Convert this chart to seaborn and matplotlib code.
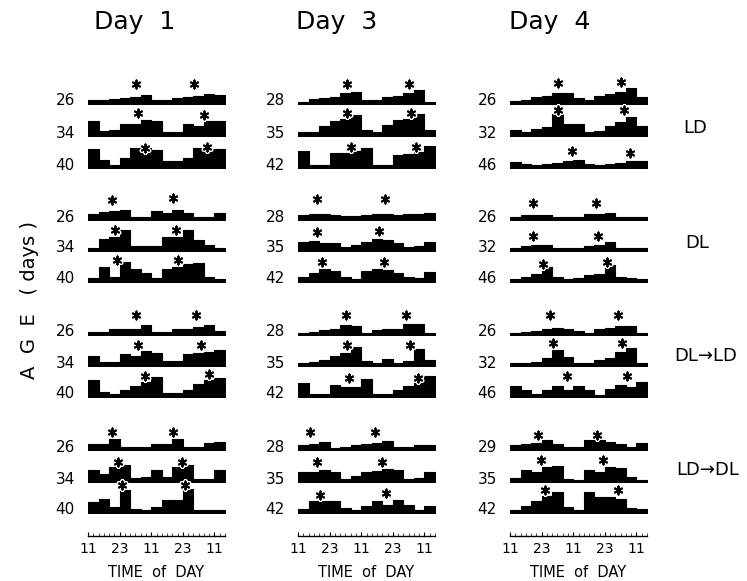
import numpy as np
import pandas as pd
import matplotlib
matplotlib.use("Agg")
import matplotlib.pyplot as plt
import seaborn as sns

sns.set_theme(style="white")
plt.rcParams['font.family'] = ['DejaVu Sans']

# ---------------- data ----------------
bin_edges = list(range(0, 53, 4))          # hours after 11:00, 4-h bins
day_titles = ["Day  1", "Day  3", "Day  4"]
group_labels = ["LD", "DL", "DL\u2192LD", "LD\u2192DL"]
tick_hours = [0, 12, 24, 36, 48]
tick_labels = ["11", "23", "11", "23", "11"]

ages_d1 = [[26, 34, 40], [26, 34, 40], [26, 34, 40], [26, 34, 40]]
ages_d3 = [[28, 35, 42], [28, 35, 42], [28, 35, 42], [28, 35, 42]]
ages_d4 = [[26, 32, 46], [26, 32, 46], [26, 32, 46], [29, 35, 42]]

# activity per 4-h bin (arbitrary units)
d1_LD = [[3.5, 4, 5, 6, 7, 9, 3.5, 3.5, 6, 7, 7.5, 10, 9],
         [15, 5, 6, 12, 12.5, 16.5, 15, 4.5, 4.5, 12.5, 10, 15, 15],
         [19.5, 8, 3, 10, 20.5, 20, 18, 7.5, 7.5, 10.5, 20.5, 19.5, 19.5]]
d1_DL = [[6.5, 8, 9, 10, 3, 3.5, 9, 7, 10.5, 7, 3.5, 3, 7.5],
         [3, 12.5, 14, 21.5, 5, 5, 5, 14, 14, 21.5, 11, 6, 3],
         [4, 14.5, 5, 20, 12.5, 8.5, 4, 12.5, 14.5, 18, 19, 5, 3]]
d1_DLLD = [[3, 3.5, 6.5, 6, 6.5, 10, 3, 3, 6.5, 6.5, 8, 10.5, 4.5],
           [9.5, 3.5, 3.5, 11.5, 9.5, 15, 13, 4.5, 4.5, 12, 12.5, 14, 16],
           [17, 5, 3, 7.5, 11, 15, 20, 4.5, 4, 7, 13, 17, 19.5]]
d1_LDDL = [[6, 6.5, 11.5, 3, 3, 3.5, 6, 6, 11.5, 3, 3, 7.5, 8],
           [12.5, 8.5, 15, 17, 4, 5, 12.5, 5, 15, 17, 3, 3, 12.5],
           [11, 14.5, 6, 23, 4, 3, 6.5, 13.5, 13.5, 24.5, 3, 3.5, 3.5]]

d3_LD = [[2, 4.5, 5.5, 6.5, 11, 12, 3.5, 4, 6.5, 8, 11, 14, 2],
         [4, 4, 10, 15, 17, 21, 6, 4, 11, 16, 17, 22, 6],
         [17, 3, 3, 15, 15, 17, 20.5, 3, 3, 13, 14.5, 16, 22]]
d3_DL = [[5, 6.5, 6, 5, 4, 4.5, 5.5, 6.5, 6.5, 5.5, 6, 6.5, 7.5],
         [9.5, 10.5, 8.5, 8.5, 4.5, 6, 9.5, 12.5, 11, 8.5, 4.5, 5.5, 9.5],
         [4.5, 8.5, 12.5, 10.5, 5, 3, 10.5, 12.5, 11.5, 8.5, 5, 3.5, 9.5]]
d3_DLLD = [[2.5, 3, 5.5, 6.5, 10.5, 9.5, 2.5, 5, 6, 6.5, 11, 11, 2.5],
           [3, 3.5, 6, 10, 13, 18.5, 4.5, 3, 6.5, 3, 4.5, 16.5, 6],
           [14.5, 3, 3, 12, 10.5, 10.5, 18.5, 3, 3, 7, 11, 15.5, 21]]
d3_LDDL = [[5, 6.5, 8.5, 2.5, 3, 5, 6, 7.5, 9.5, 3, 3.5, 5, 5],
           [10, 10, 12, 10, 3, 6, 10, 11, 13.5, 12, 3.5, 4.5, 10],
           [4.5, 12, 12, 12, 5.5, 3, 7, 12, 8, 13.5, 8, 3.5, 7]]

d4_LD = [[3, 4, 6.5, 8, 10.5, 10.5, 5.5, 4, 8, 10, 11.5, 15.5, 6.5],
         [6.5, 4, 7, 9.5, 22, 12, 12, 4, 5.5, 10.5, 14, 19, 10.5],
         [6, 4, 3, 4, 5, 7, 8, 4, 3, 4, 5, 7, 7.5]]
d4_DL = [[3, 5.5, 5.5, 5.5, 3, 3, 3, 6, 6, 7, 3, 3.5, 3],
         [3.5, 5.5, 6, 6, 3, 3, 3.5, 5.5, 6.5, 9, 3, 3, 3],
         [3, 5, 8, 15, 5, 3, 3.5, 6.5, 8, 17, 5, 3.5, 3]]
d4_DLLD = [[2.5, 3, 4.5, 6, 7.5, 6.5, 4.5, 2.5, 6, 7.5, 9, 9, 2.5],
           [2.5, 3, 3.5, 7.5, 16, 8.5, 2.5, 3, 6, 7.5, 14, 17.5, 2.5],
           [11, 7, 3, 7, 11, 7, 11, 7, 2.5, 8, 12, 10, 15.5]]
d4_LDDL = [[5, 6, 7, 10, 6.5, 3.5, 3, 10.5, 10.5, 8.5, 6, 3, 7.5],
           [4.5, 12, 10, 15, 16.5, 3.5, 2.5, 12, 10, 15.5, 14, 5, 2.5],
           [3, 7.5, 12, 17.5, 21, 6.5, 3.5, 21, 16, 16.5, 14.5, 5.5, 4.5]]

# asterisks (peak markers): hour and level for each row
s1_LD_h = [[18.2, 40.3], [19.1, 44], [21.6, 45]]
s1_LD_y = [[20, 20], [22.7, 21], [19.7, 21]]
s1_DL_h = [[9, 32.4], [10.3, 33.4], [10.9, 34]]
s1_DL_y = [[20, 21.7], [21, 21], [22, 22]]
s1_DLLD_h = [[18.2, 41], [19, 43], [21.6, 46]]
s1_DLLD_y = [[20, 20], [21, 21], [21, 23]]
s1_LDDL_h = [[9, 32.4], [11.5, 35.6], [12.8, 36.8]]
s1_LDDL_y = [[18, 18], [20, 20], [28, 28]]

s3_LD_h = [[18.7, 42.3], [18.7, 42.8], [20, 44.7]]
s3_LD_y = [[20, 20], [22.7, 22.7], [20.7, 20.7]]
s3_DL_h = [[7.3, 33], [7.3, 30.7], [9, 32.7]]
s3_DL_y = [[20.7, 20.7], [19.3, 20.3], [20.3, 20.3]]
s3_DLLD_h = [[18.2, 40.9], [18.5, 42.6], [19.5, 45.7]]
s3_DLLD_y = [[20, 20], [21, 21], [18.7, 18.7]]
s3_LDDL_h = [[4.6, 29.2], [7.3, 31.8], [8.4, 33.4]]
s3_LDDL_y = [[18.3, 18.3], [20.3, 20.3], [18, 19.7]]

s4_LD_h = [[18.1, 42], [18.4, 43.3], [23.6, 45.6]]
s4_LD_y = [[21, 21.7], [25.7, 25.7], [17, 15]]
s4_DL_h = [[8.6, 32.7], [8.9, 33.3], [12.4, 37]]
s4_DL_y = [[17, 17], [15, 15], [18, 20]]
s4_DLLD_h = [[15.2, 40.9], [16.5, 42.5], [21.5, 44.3]]
s4_DLLD_y = [[20, 20], [22.7, 22.7], [20.7, 20.7]]
s4_LDDL_h = [[10.8, 33.2], [11.6, 35.4], [13.3, 41.1]]
s4_LDDL_y = [[15, 15], [21.7, 21.7], [23.3, 23.3]]

columns = [
    (ages_d1, [d1_LD, d1_DL, d1_DLLD, d1_LDDL],
     [s1_LD_h, s1_DL_h, s1_DLLD_h, s1_LDDL_h], [s1_LD_y, s1_DL_y, s1_DLLD_y, s1_LDDL_y]),
    (ages_d3, [d3_LD, d3_DL, d3_DLLD, d3_LDDL],
     [s3_LD_h, s3_DL_h, s3_DLLD_h, s3_LDDL_h], [s3_LD_y, s3_DL_y, s3_DLLD_y, s3_LDDL_y]),
    (ages_d4, [d4_LD, d4_DL, d4_DLLD, d4_LDDL],
     [s4_LD_h, s4_DL_h, s4_DLLD_h, s4_LDDL_h], [s4_LD_y, s4_DL_y, s4_DLLD_y, s4_LDDL_y]),
]

# ---------------- layout (pixels) ----------------
W, H = 747, 581
col_left = [88, 298, 510]
col_width = 137
row_base = [[104, 136, 168], [220, 251, 282], [335, 366, 397], [450, 482, 513]]
row_h = 30
title_x = [135, 337, 550]
group_xy = [(695, 128), (697, 243), (706, 356), (708, 470)]
axis_y = 536

fig = plt.figure(figsize=(W / 100, H / 100), dpi=100)
centers = [(a + b) / 2 for a, b in zip(bin_edges[:-1], bin_edges[1:])]

for c, (ages, groups, sh, sy) in enumerate(columns):
    for g in range(4):
        for r in range(3):
            ax = fig.add_axes([col_left[c] / W, 1 - row_base[g][r] / H,
                               col_width / W, row_h / H])
            df = pd.DataFrame({"hour": centers, "activity": groups[g][r]})
            sns.histplot(data=df, x="hour", weights="activity", bins=bin_edges,
                         element="step", fill=True, color="black", alpha=1,
                         linewidth=0.8, edgecolor="black", ax=ax)
            ax.scatter(sh[g][r], sy[g][r], marker=(6, 2, 0), s=40,
                       color="white", linewidths=3.0, clip_on=False, zorder=4)
            ax.scatter(sh[g][r], sy[g][r], marker=(6, 2, 0), s=34,
                       color="black", linewidths=1.4, clip_on=False, zorder=5)
            ax.set_xlim(0, 52)
            ax.set_ylim(0, row_h)
            ax.axis("off")
            ax.text(-5, 3, str(ages[g][r]), ha="right", va="center",
                    fontsize=11, color="black", clip_on=False)
    # time-of-day axis
    tax = fig.add_axes([col_left[c] / W, 1 - axis_y / H, col_width / W, 4 / H])
    tax.set_xlim(0, 52)
    tax.set_ylim(0, 1)
    tax.set_yticks([])
    tax.set_xticks(tick_hours)
    tax.set_xticklabels(tick_labels)
    tax.set_xticks(list(range(0, 53, 2)), minor=True)
    for sp in ["top", "left", "right"]:
        tax.spines[sp].set_visible(False)
    tax.spines["bottom"].set_color("black")
    tax.spines["bottom"].set_linewidth(1.0)
    tax.patch.set_alpha(0)
    tax.tick_params(axis="x", which="major", direction="in", length=3,
                    width=0.8, pad=4, labelsize=10, colors="black", bottom=True)
    tax.tick_params(axis="x", which="minor", direction="in", length=2,
                    width=0.6, bottom=True)
    tax.set_xlabel("TIME  of  DAY", fontsize=10.5, labelpad=7, color="black")
    fig.text(title_x[c] / W, 1 - 22 / H, day_titles[c], ha="center",
             va="center", fontsize=18, color="black")

for (gx, gy), lab in zip(group_xy, group_labels):
    fig.text(gx / W, 1 - gy / H, lab, ha="center", va="center",
             fontsize=13, color="black")

fig.text(30 / W, 1 - 300 / H, "A  G  E   ( days )", rotation=90, ha="center",
         va="center", fontsize=14, color="black")

fig.savefig("out.png", dpi=100)
